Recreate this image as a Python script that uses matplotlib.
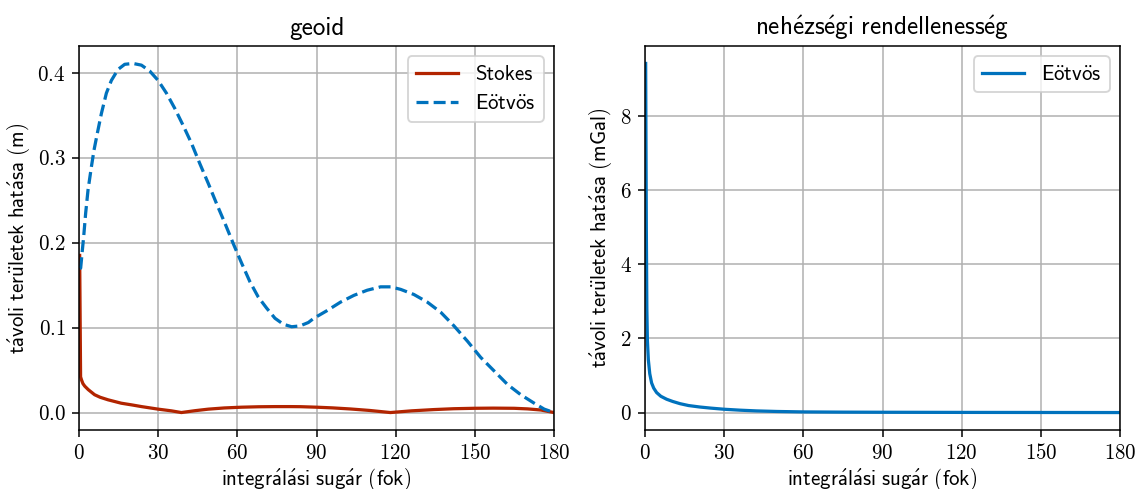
import matplotlib
matplotlib.use("Agg")
import matplotlib.pyplot as plt

# geoid: far-zone effect (m) vs integration radius (deg)
stokes_deg = [0.25, 0.6, 1.0, 1.5, 2.2, 3.5, 4.7, 5.9, 8.0, 11.0, 16.0, 20.0, 23.7, 30.0,
              35.0, 38.8, 44.0, 49.0, 55.0, 61.6, 68.0, 74.3, 80.0, 83.9, 90.0, 96.0,
              102.9, 110.0, 118.0, 126.0, 134.5, 142.0, 149.7, 157.0, 164.9, 170.0,
              175.0, 180.0]
stokes_val = [0.185, 0.042, 0.038, 0.034, 0.031, 0.027, 0.024, 0.021, 0.018, 0.015, 0.011,
              0.009, 0.007, 0.004, 0.002, 0.0, 0.0022, 0.004, 0.0054, 0.0063, 0.0068,
              0.007, 0.007, 0.0069, 0.0063, 0.0055, 0.0042, 0.0025, 0.0, 0.002, 0.0035,
              0.0045, 0.005, 0.0052, 0.005, 0.0043, 0.003, 0.0]

eotvos_deg = [0.25, 0.63, 1.14, 1.77, 2.53, 3.42, 4.68, 5.69, 6.96, 8.48, 10.37, 12.27,
              14.8, 17.33, 20.49, 23.66, 26.82, 29.98, 33.14, 36.31, 39.47, 42.63, 45.79,
              48.96, 52.12, 55.28, 58.44, 61.61, 64.77, 67.93, 71.09, 74.26, 77.42, 80.58,
              83.74, 86.91, 89.0, 94.0, 99.1, 104.2, 109.2, 114.3, 118.1, 121.9, 126.9,
              132.0, 137.1, 142.1, 147.2, 152.2, 157.3, 162.4, 167.4, 172.5, 176.3, 180.0]
eotvos_val = [0.17, 0.17, 0.187, 0.207, 0.235, 0.262, 0.289, 0.309, 0.329, 0.352, 0.376,
              0.391, 0.404, 0.41, 0.411, 0.409, 0.402, 0.391, 0.376, 0.358, 0.338, 0.317,
              0.293, 0.27, 0.246, 0.223, 0.199, 0.176, 0.154, 0.136, 0.123, 0.111, 0.104,
              0.101, 0.102, 0.106, 0.111, 0.12, 0.13, 0.138, 0.144, 0.148, 0.148, 0.145,
              0.139, 0.13, 0.118, 0.102, 0.084, 0.065, 0.049, 0.033, 0.021, 0.011, 0.004,
              0.0]

# gravity anomaly: far-zone effect (mGal)
grav_deg = [0.25, 0.5, 0.7, 0.9, 1.26, 1.8, 2.5, 3.3, 4.4, 6.0, 8.2, 10.5, 13.3, 16.5,
            20.8, 25.0, 30.0, 36.0, 42.3, 50.0, 60.0, 75.0, 90.0, 105.0, 120.0, 150.0,
            180.0]
grav_val = [9.42, 5.0, 2.8, 1.96, 1.43, 1.05, 0.80, 0.66, 0.54, 0.44, 0.36, 0.30, 0.24,
            0.19, 0.15, 0.12, 0.09, 0.065, 0.045, 0.03, 0.018, 0.012, 0.009, 0.007,
            0.005, 0.003, 0.001]

x_ticks = [0, 30, 60, 90, 120, 150, 180]

red = '#B22400'
blue = '#0072BD'


def sf(s):
    # sans-serif Computer Modern look, accents via mathtext
    return r'$\mathsf{' + s + '}$'


lbl_eotvos = sf(r'E\ddot{o}tv\ddot{o}s')
lbl_x = sf(r'integr\acute{a}l\acute{a}si\ sug\acute{a}r\ (fok)')
lbl_y1 = sf(r't\acute{a}voli\ ter\ddot{u}letek\ hat\acute{a}sa\ (m)')
lbl_y2 = sf(r't\acute{a}voli\ ter\ddot{u}letek\ hat\acute{a}sa\ (mGal)')
title2 = sf(r'neh\acute{e}zs\acute{e}gi\ rendelleness\acute{e}g')

plt.rcParams['font.size'] = 11
plt.rcParams['font.family'] = ['cmss10', 'DejaVu Sans']
plt.rcParams['axes.formatter.use_mathtext'] = True
plt.rcParams['mathtext.fontset'] = 'cm'

dpi = 137
fig = plt.figure(figsize=(1137 / dpi, 489 / dpi), dpi=dpi)
ax1 = fig.add_axes([79 / 1137, 1 - 430 / 489, 475 / 1137, 384 / 489])
ax2 = fig.add_axes([645 / 1137, 1 - 430 / 489, 475 / 1137, 384 / 489])

ax1.plot(stokes_deg, stokes_val, color=red, lw=1.7, label='Stokes')
ax1.plot(eotvos_deg, eotvos_val, color=blue, lw=1.7, ls='--', label=lbl_eotvos)
ax1.set_title('geoid')
ax1.set_ylabel(lbl_y1, labelpad=3)
ax1.set_yticks([0.0, 0.1, 0.2, 0.3, 0.4])

ax2.plot(grav_deg, grav_val, color=blue, lw=1.7, label=lbl_eotvos)
ax2.set_title(title2)
ax2.set_ylabel(lbl_y2, labelpad=3)
ax2.set_yticks([0, 2, 4, 6, 8])

for ax in (ax1, ax2):
    ax.set_xlim(0, 180)
    ax.set_xticks(x_ticks)
    ax.set_xlabel(lbl_x, labelpad=1.5)
    ax.grid(True)
    ax.legend(loc='upper right')
    for lbl in ax.get_xticklabels() + ax.get_yticklabels():
        lbl.set_fontfamily('cmr10')

fig.savefig('out.png', dpi=dpi)
